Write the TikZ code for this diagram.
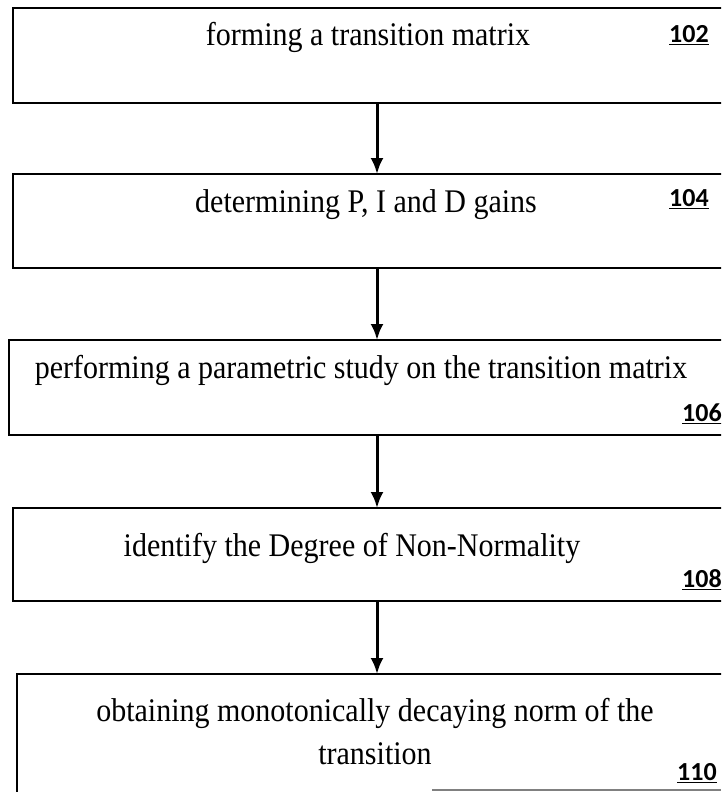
\documentclass[tikz,border=0pt]{standalone}
\usepackage{fontspec}
\setmainfont{Liberation Serif}
\newfontfamily\numfont{Carlito}
\usetikzlibrary{arrows.meta,positioning}

\newcommand{\tallerline}[1]{\scalebox{1}[1.1]{#1}}

\tikzset{
	stepbox/.style={draw,rectangle,line width=2.5pt,inner sep=0pt,outer sep=0pt,anchor=north west},
	steptext/.style={font=\fontsize{30}{36}\selectfont,inner sep=0pt,align=center},
	refnum/.style={font=\numfont\bfseries\fontsize{26}{30}\selectfont,inner sep=0pt},
	flow/.style={-{Latex[length=16pt,width=13pt]},line width=3pt}
}

\begin{document}
\begin{tikzpicture}[x=1pt,y=-1pt]
	\clip (0,0) rectangle (721,792);
	\fill[white] (0,0) rectangle (721,792);

	\node[stepbox,minimum width=728,minimum height=95] (b102) at (13,8) {};
	\node[stepbox,minimum width=728,minimum height=94] (b104) at (13,174) {};
	\node[stepbox,minimum width=736,minimum height=95] (b106) at (9,340) {};
	\node[stepbox,minimum width=728,minimum height=93] (b108) at (13,508) {};
	\node[stepbox,minimum width=720,minimum height=140] (b110) at (17,674) {};

	\node[steptext] (t102) at (368,37) {\tallerline{forming a transition matrix}};
	\node[steptext] (t104) at (366,205) {\tallerline{determining P, I and D gains}};
	\node[steptext] (t106) at (361,370) {\tallerline{performing a parametric study on the transition matrix}};
	\node[steptext] (t108) at (352,548) {\tallerline{identify the Degree of Non-Normality}};
	\node[steptext] (t110) at (375,732) {\tallerline{obtaining monotonically decaying norm of the}\\[7pt] \tallerline{transition}};

	\node[refnum] (n102) at (689,35) {\underline{102}};
	\node[refnum] (n104) at (689,199) {\underline{104}};
	\node[refnum] (n106) at (702,414) {\underline{106}};
	\node[refnum] (n108) at (702,580) {\underline{108}};
	\node[refnum] (n110) at (697,773) {\underline{110}};

	\draw[flow] (b102.south) -- (b104.north);
	\draw[flow] (b104.south) -- (b106.north);
	\draw[flow] (b106.south) -- (b108.north);
	\draw[flow] (b108.south) -- (b110.north);

	\draw[gray,line width=2pt] (432,790) -- (721,790);
\end{tikzpicture}
\end{document}
